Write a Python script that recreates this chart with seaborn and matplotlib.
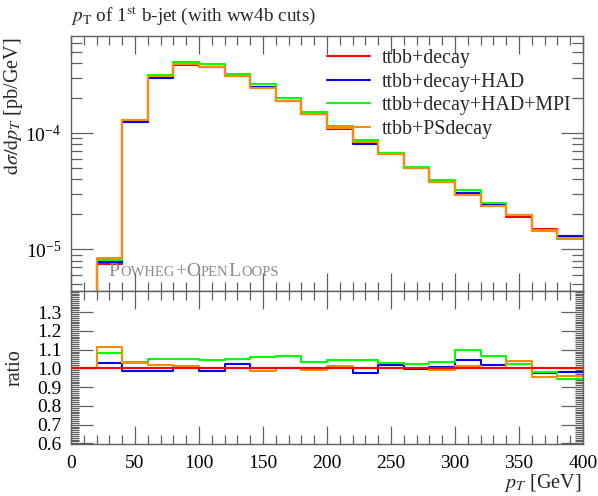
import numpy as np
import pandas as pd
import matplotlib
matplotlib.use("Agg")
import matplotlib.pyplot as plt
import seaborn as sns
from matplotlib.ticker import MultipleLocator, LogLocator, NullFormatter
from matplotlib.lines import Line2D
from matplotlib.offsetbox import TextArea, HPacker, AnchoredOffsetbox

# ---------------- data ----------------
bin_edges = [0, 20, 40, 60, 80, 100, 120, 140, 160, 180, 200,
             220, 240, 260, 280, 300, 320, 340, 360, 380, 400]

# reference: ttbb+decay  [pb/GeV] per bin
ref_values = [0.0, 7.5e-6, 1.25e-4, 3.03e-4, 3.87e-4, 3.73e-4, 3.08e-4, 2.48e-4,
              1.88e-4, 1.46e-4, 1.09e-4, 8.3e-5, 6.55e-5, 5.0e-5, 3.82e-5,
              2.92e-5, 2.35e-5, 1.91e-5, 1.5e-5, 1.31e-5]

# ratios to ttbb+decay
ratio_had = [1.0, 1.031, 0.986, 0.986, 1.006, 0.986, 1.024, 1.0, 1.002, 1.005,
             1.01, 0.974, 1.021, 0.997, 1.009, 1.047, 1.016, 1.022, 0.974, 0.983]
ratio_mpi = [1.0, 1.083, 1.033, 1.05, 1.05, 1.045, 1.053, 1.06, 1.064, 1.034,
             1.047, 1.043, 1.029, 1.026, 1.033, 1.098, 1.069, 1.026, 0.983, 0.943]
ratio_ps = [1.0, 1.117, 1.031, 1.016, 1.012, 1.0, 1.005, 0.988, 1.0, 0.993,
            1.012, 1.003, 1.0, 1.003, 0.991, 1.012, 1.005, 1.038, 0.952, 0.962]

series_names = ["ttbb+decay", "ttbb+decay+HAD", "ttbb+decay+HAD+MPI", "ttbb+PSdecay"]
series_colors = ["#ff0000", "#0000ff", "#00ff00", "#ff8c00"]

title_text = r"$p_\mathrm{T}$ of 1$^\mathrm{st}$ b-jet (with ww4b cuts)"
ylabel_main = r"$\mathrm{d}\sigma/\mathrm{d}p_T$ [pb/GeV]"
ylabel_ratio = "ratio"
xlabel_text = r"$p_T$ [GeV]"
x_ticks = [0, 50, 100, 150, 200, 250, 300, 350, 400]
ratio_ticks = [0.6, 0.7, 0.8, 0.9, 1.0, 1.1, 1.2, 1.3]

# ---------------- build tables ----------------
ref = np.array(ref_values)
ratios = {
    series_names[0]: np.where(ref > 0, ref / np.where(ref > 0, ref, 1), 1.0),
    series_names[1]: np.array(ratio_had),
    series_names[2]: np.array(ratio_mpi),
    series_names[3]: np.array(ratio_ps),
}
rows_main, rows_ratio = [], []
for name in series_names:
    r = ratios[name]
    vals = ref * r
    vals_step = list(vals) + [vals[-1]]
    r_step = list(r) + [r[-1]]
    for e, v, rr in zip(bin_edges, vals_step, r_step):
        rows_main.append({"edge": e, "value": v, "series": name})
        rows_ratio.append({"edge": e, "ratio": rr, "series": name})
df_main = pd.DataFrame(rows_main)
df_ratio = pd.DataFrame(rows_ratio)
palette = dict(zip(series_names, series_colors))

# ---------------- style ----------------
sns.set_style("ticks")
plt.rcParams["font.family"] = ["Liberation Serif", "DejaVu Serif"]
plt.rcParams["mathtext.fontset"] = "stix"
frame_col = "#606060"
plt.rcParams["axes.edgecolor"] = frame_col
plt.rcParams["xtick.color"] = frame_col
plt.rcParams["ytick.color"] = frame_col
plt.rcParams["xtick.labelcolor"] = "black"
plt.rcParams["ytick.labelcolor"] = "black"

W, H = 598, 496
fig = plt.figure(figsize=(W / 100, H / 100), dpi=100)
L, R = 71 / W, 583 / W
top_main, bot_main, bot_ratio = 35.5 / H, 290.7 / H, 444.3 / H
ax = fig.add_axes([L, 1 - bot_main, R - L, bot_main - top_main])
axr = fig.add_axes([L, 1 - bot_ratio, R - L, bot_ratio - bot_main], sharex=ax)

lw = 1.5
sns.lineplot(data=df_main, x="edge", y="value", hue="series", hue_order=series_names,
             palette=palette, drawstyle="steps-post", estimator=None, sort=False,
             linewidth=lw, legend=False, ax=ax)
ax.set_yscale("log")
ax.set_ylim(4.4e-6, 6.9e-4)
ax.set_xlim(0, 400)

ratio_order = [series_names[1], series_names[2], series_names[3], series_names[0]]
sns.lineplot(data=df_ratio, x="edge", y="ratio", hue="series", hue_order=ratio_order,
             palette=palette, drawstyle="steps-post", estimator=None, sort=False,
             linewidth=lw, legend=False, ax=axr)
axr.set_ylim(0.595, 1.415)
axr.set_xlim(0, 400)

# ---------------- ticks ----------------
tick_fs = 14
for a in (ax, axr):
    a.tick_params(which="both", direction="in", top=True, right=True, width=0.9,
                  labelsize=tick_fs)
    a.tick_params(axis="x", which="major", length=13)
    a.tick_params(axis="x", which="minor", length=6.5)
    a.xaxis.set_major_locator(MultipleLocator(50))
    a.xaxis.set_minor_locator(MultipleLocator(10))
    for s in a.spines.values():
        s.set_linewidth(1.0)
ax.tick_params(axis="y", which="major", length=16, pad=7)
ax.tick_params(axis="y", which="minor", length=8)
ax.yaxis.set_major_locator(LogLocator(base=10, numticks=10))
ax.yaxis.set_minor_locator(LogLocator(base=10, subs=np.arange(2, 10), numticks=20))
ax.yaxis.set_minor_formatter(NullFormatter())
ax.tick_params(axis="x", labelbottom=False)

axr.set_yticks(ratio_ticks)
axr.set_yticklabels([f"{t:.1f}" for t in ratio_ticks])
axr.yaxis.set_minor_locator(MultipleLocator(0.01))
axr.tick_params(axis="y", which="major", length=16, pad=7)
axr.tick_params(axis="y", which="minor", length=5.5)
axr.tick_params(axis="x", which="major", pad=8)
axr.set_xticks(x_ticks)
axr.set_xticklabels([str(t) for t in x_ticks])

# ---------------- labels ----------------
lab_fs = 14.5
ax.set_xlabel("")
ax.set_ylabel(ylabel_main, fontsize=lab_fs, loc="top")
ax.yaxis.set_label_coords(-0.09, 0.99)
axr.set_ylabel(ylabel_ratio, fontsize=lab_fs)
axr.yaxis.set_label_coords(-0.09, 0.5)
axr.set_xlabel(xlabel_text, fontsize=lab_fs, ha="right")
axr.xaxis.set_label_coords(0.997, -0.325)
axr.xaxis.label.set_va("bottom")

fig.text(71 / W, 1 - 21 / H, title_text, fontsize=13.8, ha="left", va="baseline")

# ---------------- legend ----------------
handles = [Line2D([], [], color=c, lw=lw) for c in series_colors]
ax.legend(handles, series_names, loc="upper left", bbox_to_anchor=(0.5, 0.947),
          frameon=False, fontsize=14.3, handlelength=2.16, handletextpad=0.6,
          labelspacing=0.23, borderaxespad=0, borderpad=0)

# ---------------- watermark (small caps) ----------------
wm_col = "#8c8c8c"
big, small = 14, 10.5
parts = [("P", big), ("OWHEG", small), ("+", big), ("O", big), ("PEN", small),
         ("L", big), ("OOPS", small)]
tas = [TextArea(t, textprops=dict(fontsize=s, color=wm_col,
                                  family=["Liberation Serif"])) for t, s in parts]
pack = HPacker(children=tas, align="baseline", pad=0, sep=0.3)
anch = AnchoredOffsetbox(loc="lower left", child=pack, pad=0, borderpad=0, frameon=False,
                         bbox_to_anchor=(0.074, 0.04), bbox_transform=ax.transAxes)
ax.add_artist(anch)

fig.savefig("out.png", dpi=100)
